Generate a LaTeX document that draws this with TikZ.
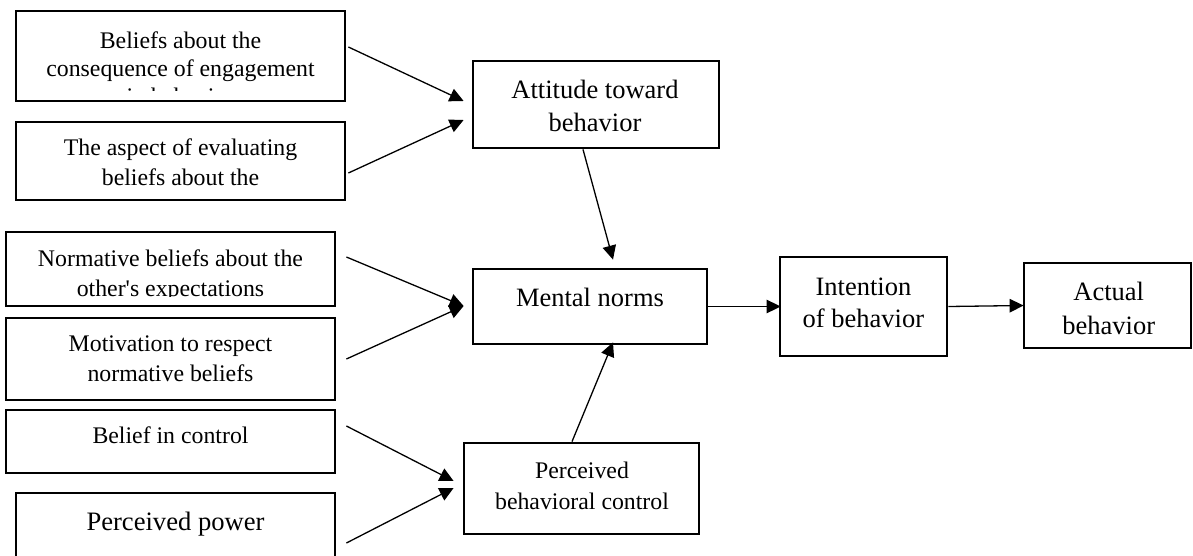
\documentclass[tikz,border=0pt]{standalone}
\usepackage{fontspec}
\newfontfamily\tnr{Liberation Serif}
\usetikzlibrary{arrows.meta}
\tikzset{
  box/.style={draw, line width=2.8pt, rectangle, inner sep=0pt},
  txt/.style={align=center, inner sep=0pt},
  lf/.style={font=\tnr\fontsize{23.8}{#1}\selectfont},
  rf/.style={font=\tnr\fontsize{26.5}{#1}\selectfont},
  arr/.style={line width=1.3pt, -{Triangle[length=14pt,width=13.5pt]}}
}
\begin{document}
\begin{tikzpicture}[x=1pt,y=-1pt]
\useasboundingbox (0,0) rectangle (1193,556);
% left boxes
\node[box, minimum width=329pt, minimum height=90pt] (b1) at (180.5,56) {};
\node[box, minimum width=329pt, minimum height=78pt] (b2) at (180.5,161) {};
\node[box, minimum width=329pt, minimum height=74pt] (b3) at (170.5,269) {};
\node[box, minimum width=329pt, minimum height=82pt] (b4) at (170.5,359) {};
\node[box, minimum width=329pt, minimum height=63pt] (b5) at (170.5,441.5) {};
\node[box, minimum width=319pt, minimum height=77pt] (b6) at (175.5,531.5) {};
% right boxes
\node[box, minimum width=246pt, minimum height=87pt] (att) at (596,104.5) {};
\node[box, minimum width=234pt, minimum height=75pt] (men) at (590,306.5) {};
\node[box, minimum width=167pt, minimum height=99pt] (int) at (863.5,306.5) {};
\node[box, minimum width=167pt, minimum height=85pt] (act) at (1107.5,305.5) {};
\node[box, minimum width=235pt, minimum height=91pt] (pbc) at (581.5,488.5) {};
% texts
\begin{scope}
\clip (16,11) rectangle (345,90.5);
\node[txt, lf=28] (b1t) at (180.5,68.2) {Beliefs about the\\consequence of engagement\\in behavior};
\end{scope}
\node[txt, lf=30] (b2t) at (180.5,162.5) {The aspect of evaluating\\beliefs about the};
\begin{scope}
\clip (6,232) rectangle (335,296);
\node[txt, lf=30.5] (b3t) at (170.5,275.5) {Normative beliefs about the\\other's expectations};
\end{scope}
\node[txt, lf=30] (b4t) at (170.5,358.5) {Motivation to respect\\normative beliefs};
\node[txt, lf=30] (b5t) at (170.5,435.5) {Belief in control};
\node[txt, font=\tnr\fontsize{26.6}{32}\selectfont] (b6t) at (175.5,524.5) {Perceived power};
\node[txt, rf=32.7] (attt) at (595,105.6) {Attitude toward\\behavior};
\node[txt, rf=32] (ment) at (590,297.6) {Mental norms};
\node[txt, rf=32.3] (intt) at (863.4,303.1) {Intention\\of behavior};
\node[txt, rf=33.3] (actt) at (1108.7,308.4) {Actual\\behavior};
\node[txt, font=\tnr\fontsize{23.8}{31}\selectfont] (pbct) at (582,485.5) {Perceived\\behavioral control};
% connectors
\draw[arr] ([shift={(2,-9)}]b1.east) -- ([shift={(-8,-3.5)}]att.west);
\draw[arr] ([shift={(2,12)}]b2.east) -- ([shift={(-8,15.5)}]att.west);
\draw[arr] ([shift={(10,-12)}]b3.east) -- ([shift={(-8,-0.5)}]men.west);
\draw[arr] ([shift={(10,0)}]b4.east) -- ([shift={(-8,-0.5)}]men.west);
\draw[arr] ([shift={(10,-15.5)}]b5.east) -- ([shift={(-9,-7.5)}]pbc.west);
\draw[arr] ([shift={(10,11.5)}]b6.east) -- ([shift={(-9,-0.5)}]pbc.west);
\draw[arr] ([shift={(-13,0)}]att.south) -- ([shift={(23,-8)}]men.north);
\draw[arr] ([shift={(-9.5,0)}]pbc.north) -- ([shift={(23,-3)}]men.south);
\draw[arr] (men.east) -- ([shift={(2,0)}]int.west);
\draw[arr] (int.east) -- ([shift={(1,0)}]act.west);
\end{tikzpicture}
\end{document}
